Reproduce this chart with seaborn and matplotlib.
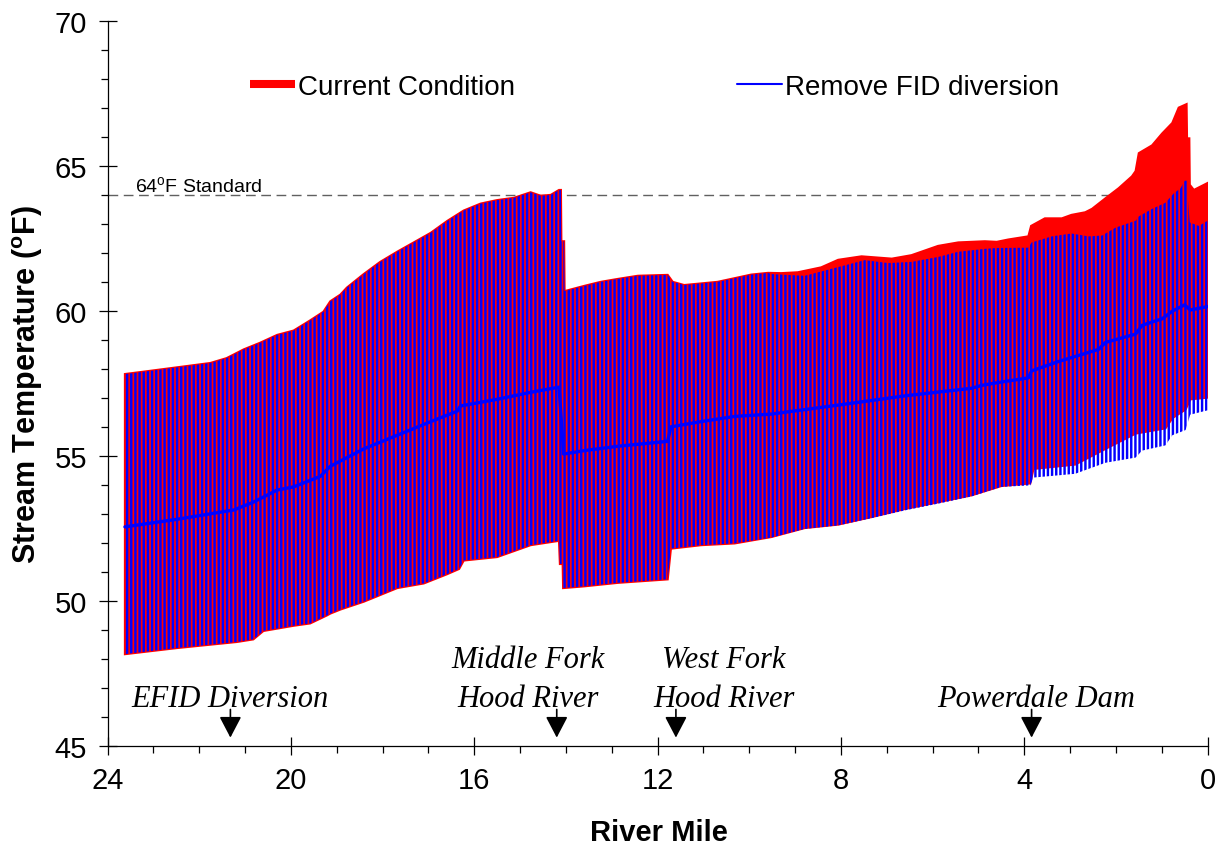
import matplotlib
matplotlib.use('Agg')
import matplotlib.pyplot as plt
import seaborn as sns
import pandas as pd
from matplotlib.lines import Line2D
from matplotlib.ticker import MultipleLocator

# ---------------- data ----------------
# Current condition: daily maximum envelope
cc_max_mile = [23.62, 23.22, 22.49, 21.76, 21.40, 21.03, 20.67, 20.30, 19.94, 19.58,
               19.29, 19.14, 18.92, 18.78, 18.41, 18.05, 17.68, 17.32, 16.95, 16.59,
               16.23, 15.86, 15.50, 15.13, 14.77, 14.55, 14.33, 14.15, 14.11, 14.10,
               14.04, 14.03, 13.60, 13.24, 12.87, 12.43, 11.78, 11.67, 11.42, 10.69,
               10.25, 9.96, 9.59, 9.30, 8.94, 8.43, 8.06, 7.55, 6.89, 6.46,
               5.88, 5.44, 4.86, 4.60, 4.35, 3.91, 3.85, 3.55, 3.18, 2.97,
               2.67, 2.52, 2.23, 1.94, 1.65, 1.57, 1.50, 1.21, 0.99, 0.77,
               0.63, 0.46, 0.45, 0.40, 0.39, 0.30, 0.00]
cc_max = [57.82, 57.90, 58.05, 58.20, 58.37, 58.67, 58.90, 59.17, 59.32, 59.67,
          59.97, 60.33, 60.56, 60.80, 61.27, 61.69, 62.04, 62.36, 62.69, 63.10,
          63.46, 63.70, 63.82, 63.90, 64.09, 63.97, 64.00, 64.17, 64.17, 62.40,
          62.40, 60.68, 60.86, 61.00, 61.10, 61.21, 61.24, 61.00, 60.89, 61.00,
          61.15, 61.25, 61.31, 61.30, 61.33, 61.50, 61.76, 61.88, 61.80, 61.92,
          62.24, 62.36, 62.40, 62.38, 62.46, 62.57, 62.93, 63.19, 63.19, 63.31,
          63.40, 63.52, 63.88, 64.23, 64.64, 64.82, 65.44, 65.71, 66.12, 66.48,
          67.01, 67.13, 65.95, 65.95, 64.35, 64.17, 64.41]

# Current condition: daily minimum envelope
cc_min_mile = [23.62, 22.49, 21.18, 20.82, 20.60, 19.94, 19.58, 19.21, 19.14, 18.92,
               18.41, 17.68, 17.10, 16.59, 16.33, 16.23, 15.50, 14.77, 14.15, 14.13,
               14.07, 14.06, 13.60, 12.87, 11.78, 11.71, 11.05, 10.32, 9.52, 8.79,
               8.06, 7.33, 6.60, 5.88, 5.15, 4.50, 3.87, 3.80, 2.89, 2.23,
               1.57, 0.92, 0.77, 0.48, 0.38, 0.00]
cc_min = [48.16, 48.37, 48.58, 48.67, 48.96, 49.14, 49.22, 49.50, 49.56, 49.70,
          49.97, 50.44, 50.60, 50.92, 51.10, 51.39, 51.51, 51.92, 52.07, 51.27,
          51.27, 50.44, 50.50, 50.62, 50.74, 51.80, 51.92, 51.98, 52.20, 52.51,
          52.63, 52.89, 53.17, 53.40, 53.64, 53.96, 54.05, 54.55, 54.70, 55.24,
          55.77, 55.95, 56.30, 56.60, 56.95, 57.01]

# Remove FID diversion: daily maximum envelope
rf_max_mile = [23.62, 23.22, 22.49, 21.76, 21.40, 21.03, 20.67, 20.30, 19.94, 19.58,
               19.29, 19.14, 18.92, 18.78, 18.41, 18.05, 17.68, 17.32, 16.95, 16.59,
               16.23, 15.86, 15.50, 15.13, 14.77, 14.55, 14.33, 14.15, 14.11, 14.10,
               14.04, 14.03, 13.60, 13.24, 12.87, 12.43, 11.78, 11.67, 11.42, 10.69,
               10.25, 9.96, 9.59, 9.52, 8.79, 8.21, 7.48, 6.97, 6.46, 5.88,
               5.44, 4.86, 4.60, 3.91, 3.84, 3.40, 2.97, 2.60, 2.30, 2.01,
               1.57, 1.50, 1.21, 0.92, 0.74, 0.59, 0.50, 0.45, 0.43, 0.39,
               0.19, 0.00]
rf_max = [57.82, 57.90, 58.05, 58.20, 58.37, 58.67, 58.90, 59.17, 59.32, 59.67,
          59.97, 60.33, 60.56, 60.80, 61.27, 61.69, 62.04, 62.36, 62.69, 63.10,
          63.46, 63.70, 63.82, 63.90, 64.09, 63.97, 64.00, 64.17, 64.17, 62.40,
          62.40, 60.68, 60.86, 61.00, 61.10, 61.21, 61.24, 61.00, 60.89, 61.00,
          61.15, 61.25, 61.31, 61.27, 61.21, 61.45, 61.75, 61.65, 61.69, 61.86,
          62.04, 62.14, 62.17, 62.18, 62.36, 62.57, 62.67, 62.57, 62.60, 62.87,
          63.11, 63.26, 63.52, 63.73, 64.05, 64.23, 64.49, 64.49, 63.88, 63.05,
          62.93, 63.11]

# Remove FID diversion: daily minimum envelope
rf_min_mile = [23.62, 22.49, 21.18, 20.82, 20.60, 19.94, 19.58, 19.21, 19.14, 18.92,
               18.41, 17.68, 17.10, 16.59, 16.33, 16.23, 15.50, 14.77, 14.15, 14.13,
               14.07, 14.06, 13.60, 12.87, 11.78, 11.71, 11.05, 10.32, 9.52, 8.79,
               8.06, 7.33, 6.60, 5.88, 5.15, 4.50, 3.87, 3.80, 2.89, 2.23,
               1.57, 1.43, 0.92, 0.77, 0.48, 0.38, 0.00]
rf_min = [48.16, 48.37, 48.58, 48.67, 48.96, 49.14, 49.22, 49.50, 49.56, 49.70,
          49.97, 50.44, 50.60, 50.92, 51.10, 51.39, 51.51, 51.92, 52.07, 51.27,
          51.27, 50.44, 50.50, 50.62, 50.74, 51.80, 51.92, 51.98, 52.18, 52.48,
          52.60, 52.85, 53.12, 53.35, 53.60, 53.93, 53.98, 54.25, 54.38, 54.76,
          54.94, 55.18, 55.36, 55.71, 55.89, 56.42, 56.57]

# Remove FID diversion: daily mean
mean_mile = [23.62, 22.49, 21.25, 20.82, 20.30, 19.94, 19.36, 19.14, 18.41, 17.68,
             16.95, 16.37, 16.30, 15.50, 14.77, 14.15, 14.05, 13.60, 12.87, 11.78,
             11.71, 11.05, 10.32, 9.52, 8.06, 6.60, 5.15, 4.93, 4.60, 3.91,
             3.84, 3.26, 2.38, 2.23, 1.57, 1.43, 0.99, 0.77, 0.50, 0.38, 0.00]
mean_temp = [52.55, 52.81, 53.13, 53.40, 53.82, 53.93, 54.29, 54.64, 55.24, 55.71,
             56.18, 56.54, 56.72, 56.95, 57.19, 57.37, 55.06, 55.18, 55.33, 55.50,
             56.00, 56.18, 56.36, 56.44, 56.75, 57.07, 57.33, 57.43, 57.52, 57.69,
             57.93, 58.25, 58.67, 58.91, 59.20, 59.50, 59.73, 59.99, 60.21, 60.03,
             60.15]

standard_temp = 64
series_labels = ['Current Condition', 'Remove FID diversion']
feature_lines = [['EFID Diversion'], ['Middle Fork', 'Hood River'],
                 ['West Fork', 'Hood River'], ['Powerdale Dam']]
feature_text_mile = [21.32, 14.82, 10.55, 3.75]
feature_mile = [21.32, 14.20, 11.60, 3.84]
x_ticks = [24, 20, 16, 12, 8, 4, 0]
y_ticks = [45, 50, 55, 60, 65, 70]

# ---------------- style ----------------
sns.set_theme(style='ticks')
plt.rcParams['font.family'] = ['Liberation Sans', 'DejaVu Sans']
plt.rcParams['mathtext.fontset'] = 'custom'
plt.rcParams['mathtext.rm'] = 'Liberation Sans'
plt.rcParams['mathtext.it'] = 'Liberation Sans:italic'
plt.rcParams['mathtext.bf'] = 'Liberation Sans:bold'
plt.rcParams['hatch.linewidth'] = 1.75
for k in ['axes.edgecolor', 'text.color', 'axes.labelcolor', 'xtick.color', 'ytick.color']:
    plt.rcParams[k] = 'black'

fig = plt.figure(figsize=(12.25, 8.53), dpi=100)
ax = fig.add_axes([0.0878, 0.1246, 0.898, 0.8496])

# 64 F standard
ax.axhline(standard_temp, color='#606060', lw=1.0, dashes=(7, 4), zorder=1)
ax.text(23.4, standard_temp + 0.14, r'64$^{\mathrm{o}}$F Standard', fontsize=14,
        ha='left', va='baseline', color='black')

# current condition envelope (solid red)
ax.fill(cc_max_mile + cc_min_mile[::-1], cc_max + cc_min[::-1],
        facecolor='#ff0000', edgecolor='#ff0000', lw=1.6, zorder=2)
# remove-FID envelope (blue vertical lines)
ax.fill(rf_max_mile + rf_min_mile[::-1], rf_max + rf_min[::-1],
        facecolor='none', edgecolor='#0000ff', lw=0, hatch='||||', zorder=3)

# mean line
df_mean = pd.DataFrame({'mile': mean_mile, 'temp': mean_temp})
sns.lineplot(data=df_mean, x='mile', y='temp', ax=ax, color='#0000ff', lw=2.4,
             sort=False, estimator=None, zorder=4)

# axes
ax.set_xlim(24, 0)
ax.set_ylim(45, 70)
ax.set_xticks(x_ticks)
ax.set_yticks(y_ticks)
ax.xaxis.set_minor_locator(MultipleLocator(1))
ax.yaxis.set_minor_locator(MultipleLocator(1))
ax.tick_params(which='major', direction='inout', length=12.5, width=0.9,
               colors='black', labelsize=21, pad=8.5)
ax.tick_params(which='minor', direction='out', length=5.3, width=0.9, colors='black')
sns.despine(ax=ax)
for s in ['left', 'bottom']:
    ax.spines[s].set_linewidth(0.9)
    ax.spines[s].set_color('black')

ax.set_xlabel('River Mile', fontsize=21, fontweight='bold', va='center')
ax.set_ylabel(r'Stream Temperature ($^{\mathbf{o}}$F)', fontsize=22, fontweight='bold',
              va='center')
ax.xaxis.set_label_coords(0.501, -0.119)
ax.yaxis.set_label_coords(-0.073, 0.499)

# legend
handles = [Line2D([], [], color='#ff0000', lw=5.8, solid_capstyle='butt'),
           Line2D([], [], color='#0000ff', lw=1.5)]
ax.legend(handles, series_labels, loc='center left', bbox_to_anchor=(0.1295, 0.909),
          ncol=2, frameon=False, fontsize=20, handlelength=1.62, handletextpad=0.11,
          columnspacing=8.0, borderpad=0, borderaxespad=0)

# feature annotations
serif = dict(family='Liberation Serif', style='italic', fontsize=22, color='black')
for lines, tm, am in zip(feature_lines, feature_text_mile, feature_mile):
    ys = [47.72, 46.37] if len(lines) == 2 else [46.37]
    for txt, yv in zip(lines, ys):
        ax.text(tm, yv, txt, ha='center', va='baseline', **serif)
    ax.annotate('', xy=(am, 45.28), xytext=(am, 46.25),
                arrowprops=dict(arrowstyle='-|>,head_length=0.65,head_width=0.34',
                                color='black', lw=1.2, mutation_scale=20,
                                shrinkA=0, shrinkB=0))

fig.savefig('out.png', dpi=100)
